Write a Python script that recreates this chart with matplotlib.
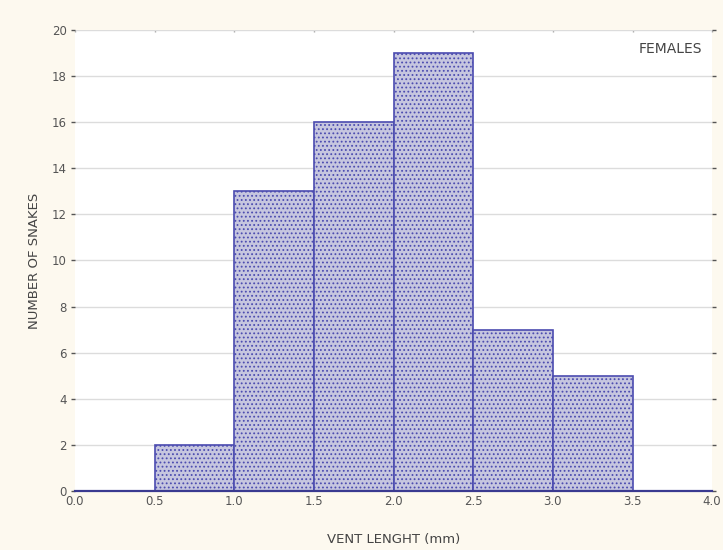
import matplotlib
matplotlib.use("Agg")
import matplotlib.pyplot as plt

bin_edges = [0.5, 1.0, 1.5, 2.0, 2.5, 3.0, 3.5]
counts = [2, 13, 16, 19, 7, 5]
x_ticks = [0.0, 0.5, 1.0, 1.5, 2.0, 2.5, 3.0, 3.5, 4.0]
y_ticks = [0, 2, 4, 6, 8, 10, 12, 14, 16, 18, 20]

plt.rcParams["hatch.color"] = "#9c9cc6"
plt.rcParams["hatch.linewidth"] = 0.8

fig = plt.figure(figsize=(7.23, 5.5), dpi=100, facecolor="#fdf9ef")
ax = fig.add_axes([0.1037, 0.1073, 0.8813, 0.8382], facecolor="white")

lefts = bin_edges[:-1]
widths = [b - a for a, b in zip(bin_edges[:-1], bin_edges[1:])]
ax.bar(lefts, counts, width=widths, align="edge", color="#c6c6df",
       edgecolor="#4c4cb0", linewidth=1.2, zorder=3, hatch="....")

ax.set_xlim(0, 4.0)
ax.set_ylim(0, 20)
ax.set_xticks(x_ticks)
ax.set_xticklabels([f"{v:.1f}" for v in x_ticks])
ax.set_yticks(y_ticks)
ax.yaxis.grid(True, color="#dcdcdc", linewidth=1.0, zorder=0)
ax.set_axisbelow(True)

for side in ["top", "right", "left"]:
    ax.spines[side].set_visible(False)
ax.spines["bottom"].set_color("#3a3a90")
ax.spines["bottom"].set_linewidth(1.6)
ax.spines["bottom"].set_zorder(4)

ax.tick_params(axis="both", colors="#555555", labelsize=8.5, length=3,
               width=1.0)
ax.tick_params(axis="x", bottom=False, top=True, length=1.5,
               color="#aaaaaa", direction="in", pad=3)
ax.tick_params(axis="y", pad=3, right=True, direction="out")

ax.set_xlabel("VENT LENGHT (mm)", fontsize=9.5, color="#444444", labelpad=18)
ax.set_ylabel("NUMBER OF SNAKES", fontsize=9.5, color="#444444", labelpad=8)

ax.text(0.985, 0.975, "FEMALES", transform=ax.transAxes, ha="right",
        va="top", fontsize=10, color="#444444")

fig.savefig("out.png", dpi=100, facecolor=fig.get_facecolor())
